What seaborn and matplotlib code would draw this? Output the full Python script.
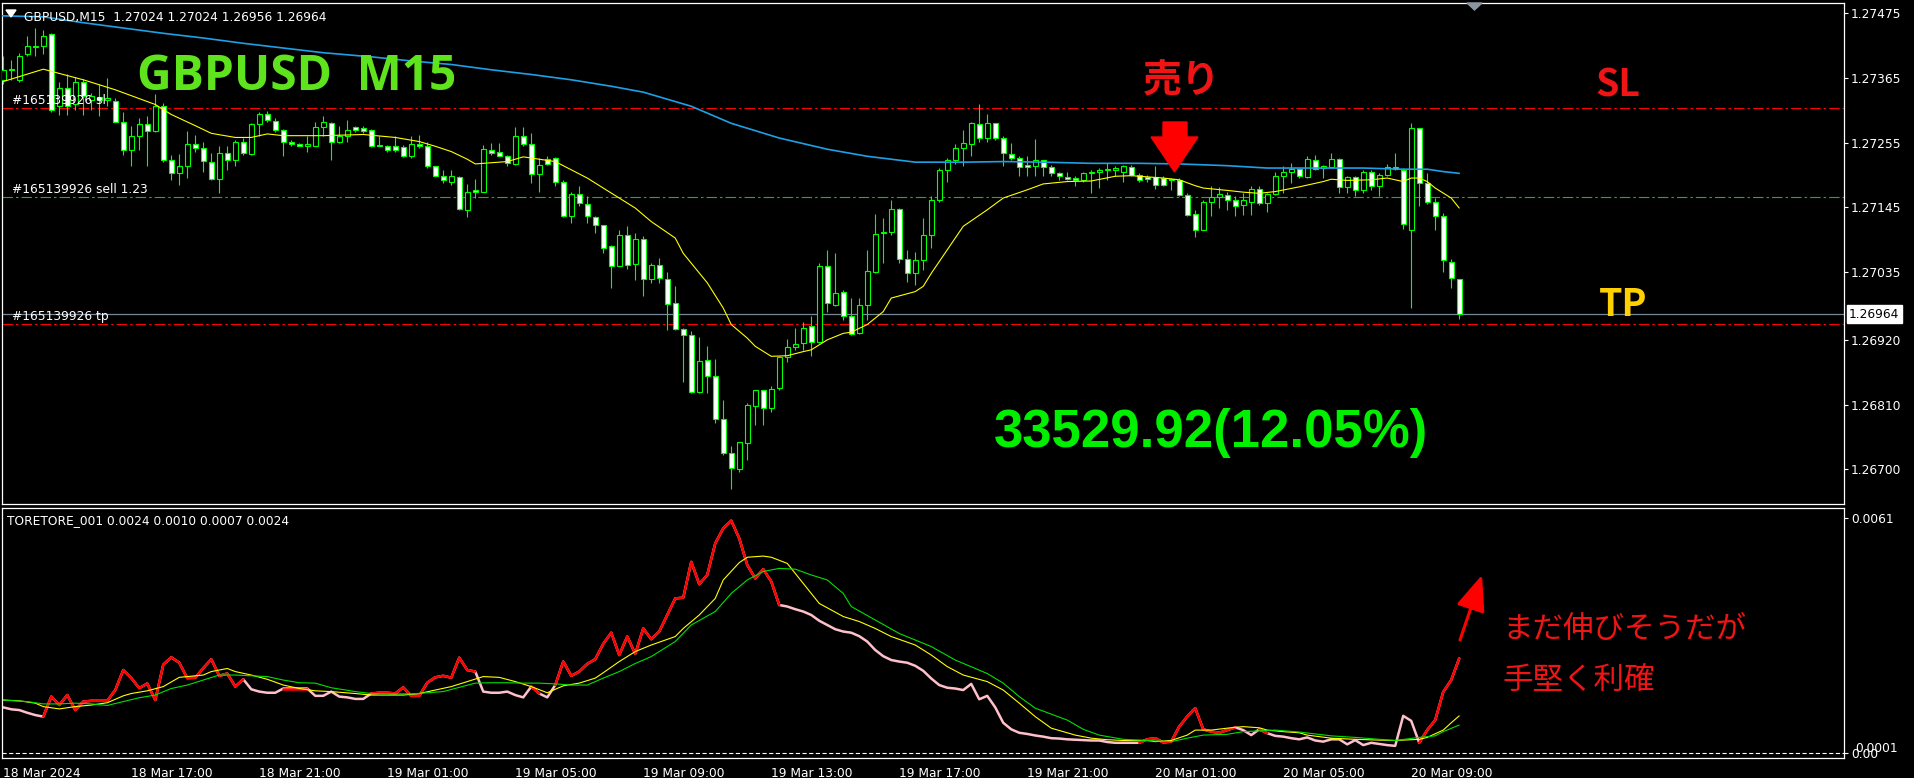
import numpy as np
import pandas as pd
import seaborn as sns
import matplotlib.pyplot as plt
from matplotlib.patches import Polygon

# GBPUSD M15 candles, bar 0 = 18 Mar 13:00
opens = [
    1.27362, 1.27378, 1.27362, 1.27405, 1.27418, 1.27419, 1.27439, 1.27317, 1.27348, 1.27320,
    1.27358, 1.27328, 1.27332, 1.27328, 1.27326, 1.27291, 1.27243, 1.27266, 1.27287, 1.27275,
    1.27317, 1.27226, 1.27203, 1.27215, 1.27253, 1.27246, 1.27222, 1.27193, 1.27237, 1.27226,
    1.27257, 1.27236, 1.27287, 1.27304, 1.27292, 1.27276, 1.27256, 1.27253, 1.27250, 1.27250,
    1.27281, 1.27288, 1.27256, 1.27267, 1.27282, 1.27280, 1.27277, 1.27252, 1.27249, 1.27249,
    1.27247, 1.27232, 1.27253, 1.27250, 1.27215, 1.27199, 1.27189, 1.27197, 1.27141, 1.27175,
    1.27172, 1.27242, 1.27239, 1.27233, 1.27219, 1.27266, 1.27253, 1.27202, 1.27227, 1.27229,
    1.27189, 1.27130, 1.27168, 1.27151, 1.27128, 1.27115, 1.27079, 1.27046, 1.27098, 1.27049,
    1.27091, 1.27023, 1.27048, 1.27023, 1.26982, 1.26938, 1.26928, 1.26831, 1.26886, 1.26858,
    1.26785, 1.26728, 1.26700, 1.26745, 1.26808, 1.26834, 1.26804, 1.26838, 1.26891, 1.26908,
    1.26915, 1.26944, 1.26916, 1.27046, 1.26980, 1.27001, 1.26960, 1.26931, 1.26980, 1.27036,
    1.27101, 1.27103, 1.27142, 1.27057, 1.27033, 1.27055, 1.27098, 1.27158, 1.27209, 1.27225,
    1.27246, 1.27253, 1.27287, 1.27263, 1.27288, 1.27263, 1.27236, 1.27229, 1.27218, 1.27215,
    1.27226, 1.27214, 1.27203, 1.27197, 1.27195, 1.27192, 1.27203, 1.27206, 1.27208, 1.27208,
    1.27205, 1.27214, 1.27201, 1.27197, 1.27197, 1.27195, 1.27193, 1.27192, 1.27167, 1.27134,
    1.27107, 1.27155, 1.27163, 1.27167, 1.27158, 1.27150, 1.27155, 1.27176, 1.27152, 1.27168,
    1.27198, 1.27206, 1.27210, 1.27196, 1.27225, 1.27212, 1.27213, 1.27227, 1.27180, 1.27196,
    1.27174, 1.27205, 1.27181, 1.27201, 1.27214, 1.27209, 1.27107, 1.27280, 1.27186, 1.27155,
    1.27131, 1.27053, 1.27024,
]
highs = [
    1.27402, 1.27396, 1.27407, 1.27436, 1.27450, 1.27447, 1.27441, 1.27359, 1.27371, 1.27367,
    1.27363, 1.27339, 1.27354, 1.27365, 1.27331, 1.27308, 1.27283, 1.27297, 1.27300, 1.27338,
    1.27322, 1.27235, 1.27236, 1.27275, 1.27269, 1.27257, 1.27237, 1.27249, 1.27249, 1.27260,
    1.27263, 1.27288, 1.27307, 1.27309, 1.27297, 1.27278, 1.27260, 1.27254, 1.27267, 1.27290,
    1.27300, 1.27291, 1.27283, 1.27293, 1.27284, 1.27283, 1.27278, 1.27266, 1.27252, 1.27266,
    1.27252, 1.27266, 1.27269, 1.27257, 1.27216, 1.27209, 1.27209, 1.27198, 1.27185, 1.27194,
    1.27252, 1.27254, 1.27254, 1.27235, 1.27282, 1.27282, 1.27271, 1.27229, 1.27232, 1.27231,
    1.27192, 1.27172, 1.27181, 1.27164, 1.27130, 1.27116, 1.27082, 1.27107, 1.27113, 1.27101,
    1.27096, 1.27050, 1.27059, 1.27036, 1.27011, 1.26940, 1.26935, 1.26925, 1.26909, 1.26887,
    1.26818, 1.26739, 1.26747, 1.26813, 1.26835, 1.26835, 1.26841, 1.26892, 1.26921, 1.26940,
    1.26950, 1.26960, 1.27051, 1.27073, 1.27067, 1.27005, 1.26991, 1.26991, 1.27073, 1.27134,
    1.27127, 1.27158, 1.27144, 1.27073, 1.27070, 1.27127, 1.27164, 1.27212, 1.27229, 1.27253,
    1.27277, 1.27290, 1.27321, 1.27304, 1.27289, 1.27266, 1.27254, 1.27232, 1.27232, 1.27261,
    1.27226, 1.27218, 1.27205, 1.27206, 1.27198, 1.27206, 1.27209, 1.27212, 1.27221, 1.27216,
    1.27218, 1.27218, 1.27203, 1.27201, 1.27216, 1.27198, 1.27195, 1.27195, 1.27169, 1.27141,
    1.27158, 1.27181, 1.27180, 1.27172, 1.27164, 1.27169, 1.27182, 1.27181, 1.27169, 1.27206,
    1.27215, 1.27221, 1.27212, 1.27233, 1.27235, 1.27218, 1.27237, 1.27229, 1.27198, 1.27198,
    1.27209, 1.27209, 1.27203, 1.27219, 1.27237, 1.27212, 1.27288, 1.27280, 1.27203, 1.27161,
    1.27135, 1.27057, 1.27024,
]
lows = [
    1.27354, 1.27362, 1.27359, 1.27402, 1.27402, 1.27405, 1.27308, 1.27302, 1.27302, 1.27311,
    1.27302, 1.27311, 1.27300, 1.27317, 1.27291, 1.27235, 1.27215, 1.27243, 1.27215, 1.27274,
    1.27223, 1.27192, 1.27184, 1.27195, 1.27240, 1.27206, 1.27192, 1.27169, 1.27209, 1.27215,
    1.27235, 1.27235, 1.27266, 1.27291, 1.27274, 1.27232, 1.27249, 1.27249, 1.27240, 1.27249,
    1.27266, 1.27226, 1.27254, 1.27257, 1.27274, 1.27271, 1.27248, 1.27249, 1.27240, 1.27240,
    1.27231, 1.27229, 1.27246, 1.27212, 1.27198, 1.27186, 1.27184, 1.27141, 1.27129, 1.27161,
    1.27171, 1.27235, 1.27232, 1.27215, 1.27218, 1.27249, 1.27186, 1.27171, 1.27218, 1.27181,
    1.27129, 1.27118, 1.27147, 1.27118, 1.27101, 1.27067, 1.27008, 1.27045, 1.27040, 1.27022,
    1.26994, 1.27016, 1.27016, 1.26937, 1.26937, 1.26849, 1.26830, 1.26829, 1.26830, 1.26779,
    1.26725, 1.26667, 1.26695, 1.26716, 1.26776, 1.26776, 1.26798, 1.26834, 1.26883, 1.26903,
    1.26903, 1.26893, 1.26915, 1.26968, 1.26977, 1.26954, 1.26929, 1.26930, 1.26954, 1.27033,
    1.27051, 1.27099, 1.27051, 1.27019, 1.27013, 1.27039, 1.27076, 1.27154, 1.27188, 1.27219,
    1.27215, 1.27232, 1.27257, 1.27257, 1.27259, 1.27215, 1.27226, 1.27198, 1.27198, 1.27198,
    1.27198, 1.27198, 1.27192, 1.27192, 1.27181, 1.27189, 1.27169, 1.27178, 1.27192, 1.27198,
    1.27189, 1.27198, 1.27189, 1.27189, 1.27176, 1.27181, 1.27174, 1.27164, 1.27131, 1.27095,
    1.27106, 1.27130, 1.27144, 1.27141, 1.27130, 1.27133, 1.27133, 1.27150, 1.27137, 1.27167,
    1.27169, 1.27186, 1.27195, 1.27195, 1.27209, 1.27195, 1.27212, 1.27169, 1.27169, 1.27164,
    1.27169, 1.27175, 1.27164, 1.27198, 1.27209, 1.27108, 1.26974, 1.27147, 1.27151, 1.27107,
    1.27036, 1.27008, 1.26956,
]
closes = [
    1.27379, 1.27380, 1.27402, 1.27419, 1.27420, 1.27437, 1.27311, 1.27348, 1.27317, 1.27359,
    1.27334, 1.27335, 1.27328, 1.27331, 1.27291, 1.27243, 1.27266, 1.27287, 1.27275, 1.27317,
    1.27226, 1.27203, 1.27215, 1.27253, 1.27246, 1.27224, 1.27193, 1.27237, 1.27226, 1.27257,
    1.27237, 1.27287, 1.27304, 1.27293, 1.27277, 1.27256, 1.27253, 1.27250, 1.27253, 1.27281,
    1.27290, 1.27256, 1.27267, 1.27277, 1.27277, 1.27275, 1.27250, 1.27249, 1.27243, 1.27243,
    1.27232, 1.27253, 1.27250, 1.27215, 1.27199, 1.27192, 1.27199, 1.27142, 1.27171, 1.27171,
    1.27244, 1.27237, 1.27233, 1.27220, 1.27266, 1.27253, 1.27202, 1.27217, 1.27219, 1.27188,
    1.27130, 1.27168, 1.27152, 1.27130, 1.27115, 1.27076, 1.27046, 1.27098, 1.27048, 1.27092,
    1.27023, 1.27048, 1.27025, 1.26981, 1.26938, 1.26929, 1.26831, 1.26884, 1.26858, 1.26785,
    1.26728, 1.26702, 1.26746, 1.26810, 1.26835, 1.26804, 1.26837, 1.26890, 1.26908, 1.26913,
    1.26940, 1.26916, 1.27046, 1.26982, 1.26999, 1.26960, 1.26930, 1.26980, 1.27037, 1.27100,
    1.27104, 1.27142, 1.27057, 1.27033, 1.27056, 1.27099, 1.27158, 1.27209, 1.27226, 1.27246,
    1.27254, 1.27288, 1.27263, 1.27288, 1.27263, 1.27237, 1.27229, 1.27214, 1.27214, 1.27226,
    1.27214, 1.27203, 1.27199, 1.27193, 1.27191, 1.27203, 1.27206, 1.27209, 1.27210, 1.27212,
    1.27216, 1.27201, 1.27192, 1.27193, 1.27183, 1.27183, 1.27191, 1.27167, 1.27133, 1.27107,
    1.27155, 1.27163, 1.27168, 1.27158, 1.27148, 1.27158, 1.27176, 1.27152, 1.27168, 1.27198,
    1.27206, 1.27210, 1.27198, 1.27227, 1.27210, 1.27216, 1.27227, 1.27180, 1.27196, 1.27174,
    1.27205, 1.27181, 1.27201, 1.27214, 1.27210, 1.27117, 1.27280, 1.27186, 1.27154, 1.27130,
    1.27056, 1.27025, 1.26964,
]

# moving averages on the price panel (read at selected bars)
ma_fast_bar = [0, 5, 10, 14, 19, 21, 24, 26, 29, 31, 33, 35, 40, 45, 49, 52, 54, 56, 58, 59,
               63, 65, 69, 71, 73, 75, 77, 79, 81, 84, 85, 88, 90, 91, 93, 94, 96, 98, 100, 101,
               103, 105, 106, 108, 110, 111, 114, 115, 116, 118, 120, 123, 125, 128, 130, 133, 136, 139, 141, 143,
               145, 147, 149, 150, 153, 155, 157, 159, 162, 165, 166, 168, 171, 173, 175, 176, 177, 178, 179, 181, 182]
ma_fast = [1.27359, 1.27380, 1.27362, 1.27345, 1.27320, 1.27303, 1.27284, 1.27271, 1.27264, 1.27264,
           1.27270, 1.27267, 1.27267, 1.27269, 1.27264, 1.27257, 1.27249, 1.27240, 1.27227, 1.27219,
           1.27223, 1.27231, 1.27223, 1.27209, 1.27195, 1.27178, 1.27161, 1.27144, 1.27121, 1.27093,
           1.27067, 1.27017, 1.26974, 1.26946, 1.26923, 1.26909, 1.26892, 1.26893, 1.26900, 1.26903,
           1.26920, 1.26931, 1.26933, 1.26946, 1.26968, 1.26991, 1.27002, 1.27011, 1.27033, 1.27073,
           1.27113, 1.27141, 1.27161, 1.27175, 1.27185, 1.27189, 1.27190, 1.27198, 1.27199, 1.27197,
           1.27195, 1.27192, 1.27182, 1.27178, 1.27174, 1.27171, 1.27169, 1.27172, 1.27180, 1.27189,
           1.27193, 1.27191, 1.27192, 1.27195, 1.27189, 1.27195, 1.27195, 1.27189, 1.27178, 1.27161, 1.27144]
ma_slow_bar = [-1, 5, 10, 15, 20, 25, 30, 35, 40, 46, 51, 56, 61, 66, 71, 76, 80, 86, 91, 97,
               103, 108, 114, 120, 125, 130, 136, 142, 147, 153, 158, 162, 165, 170, 175, 178, 180, 182]
ma_slow = [1.27471, 1.27469, 1.27459, 1.27450, 1.27441, 1.27433, 1.27424, 1.27416, 1.27408, 1.27401,
           1.27394, 1.27388, 1.27379, 1.27371, 1.27362, 1.27351, 1.27341, 1.27317, 1.27288, 1.27263,
           1.27244, 1.27232, 1.27222, 1.27222, 1.27223, 1.27222, 1.27220, 1.27220, 1.27219, 1.27216,
           1.27212, 1.27212, 1.27212, 1.27212, 1.27210, 1.27210, 1.27206, 1.27203]

# TORETORE_001 oscillator
osc_main = [
    .00119, .00114, .00112, .00105, .00099, .00095, .00147, .00125, .00151, .00112,
    .00134, .00136, .00136, .00136, .00164, .00216, .00195, .00169, .00181, .00138,
    .00230, .00249, .00235, .00195, .00196, .00221, .00244, .00201, .00207, .00173,
    .00192, .00166, .00160, .00157, .00157, .00168, .00168, .00168, .00168, .00149,
    .00149, .00160, .00147, .00145, .00141, .00141, .00155, .00157, .00157, .00155,
    .00171, .00149, .00149, .00183, .00197, .00201, .00196, .00248, .00216, .00212,
    .00160, .00157, .00157, .00160, .00151, .00145, .00173, .00155, .00145, .00177,
    .00238, .00201, .00212, .00232, .00244, .00284, .00313, .00255, .00303, .00258,
    .00324, .00296, .00316, .00359, .00402, .00404, .00497, .00439, .00463, .00545,
    .00584, .00604, .00558, .00489, .00454, .00478, .00446, .00385, .00381, .00374,
    .00368, .00359, .00344, .00333, .00322, .00316, .00313, .00304, .00290, .00268,
    .00252, .00242, .00238, .00235, .00227, .00214, .00194, .00177, .00170, .00168,
    .00164, .00180, .00140, .00149, .00119, .00079, .00062, .00053, .00050, .00046,
    .00043, .00039, .00038, .00036, .00035, .00034, .00033, .00033, .00029, .00027,
    .00027, .00027, .00027, .00036, .00039, .00028, .00030, .00069, .00095, .00117,
    .00062, .00056, .00053, .00060, .00067, .00060, .00047, .00062, .00052, .00045,
    .00043, .00039, .00036, .00041, .00033, .00030, .00036, .00036, .00023, .00034,
    .00021, .00027, .00024, .00021, .00019, .00097, .00084, .00027, .00060, .00086,
    .00159, .00190, .00246,
]
osc_red_spans = [(5, 30), (35, 38), (46, 59), (66, 67), (69, 97), (142, 154), (157, 158), (177, 182)]
osc_sig_bar = [0, 2, 4, 5, 7, 9, 11, 13, 15, 16, 18, 20, 22, 23, 25, 26, 28, 29, 31, 33,
               35, 37, 39, 41, 44, 46, 48, 50, 52, 54, 56, 58, 60, 62, 64, 66, 68, 70, 72, 74,
               75, 77, 79, 81, 84, 85, 87, 89, 90, 92, 93, 95, 96, 98, 99, 100, 101, 102, 105, 107,
               109, 111, 114, 116, 118, 120, 123, 125, 127, 129, 131, 134, 136, 138, 140, 143, 144, 146, 148, 149,
               151, 153, 155, 157, 158, 160, 162, 163, 166, 169, 172, 174, 177, 178, 180, 181, 182]
osc_sig = [.00138, .00136, .00130, .00121, .00115, .00121, .00125, .00131, .00149, .00155,
           .00162, .00173, .00197, .00199, .00203, .00212, .00220, .00212, .00203, .00192,
           .00177, .00168, .00162, .00160, .00155, .00151, .00151, .00151, .00155, .00164,
           .00173, .00186, .00199, .00197, .00186, .00173, .00157, .00175, .00182, .00195,
           .00209, .00238, .00264, .00281, .00303, .00324, .00359, .00402, .00450, .00495,
           .00509, .00512, .00509, .00493, .00467, .00441, .00415, .00389, .00355, .00342,
           .00324, .00303, .00281, .00255, .00225, .00203, .00186, .00164, .00130, .00095,
           .00065, .00047, .00039, .00035, .00033, .00033, .00030, .00033, .00047, .00060,
           .00060, .00065, .00069, .00066, .00060, .00056, .00053, .00047, .00039, .00036,
           .00034, .00033, .00036, .00041, .00060, .00079, .00097]
osc_slow_bar = [0, 3, 5, 7, 9, 11, 13, 15, 17, 19, 21, 23, 25, 27, 29, 31, 33, 35, 37, 39,
                41, 44, 46, 48, 51, 53, 55, 57, 59, 61, 63, 65, 67, 69, 71, 73, 75, 77, 79, 81,
                84, 86, 89, 91, 93, 95, 97, 99, 101, 103, 105, 106, 109, 112, 116, 119, 123, 125, 127, 129,
                133, 135, 137, 140, 143, 146, 148, 150, 153, 155, 157, 159, 162, 166, 169, 172, 174, 177, 179, 180, 182]
osc_slow = [.00138, .00134, .00128, .00128, .00130, .00128, .00124, .00134, .00144, .00151,
            .00168, .00177, .00190, .00203, .00203, .00201, .00199, .00190, .00183, .00182,
            .00170, .00160, .00155, .00154, .00154, .00157, .00160, .00171, .00182, .00183,
            .00183, .00182, .00182, .00180, .00177, .00177, .00195, .00212, .00233, .00251,
            .00290, .00333, .00368, .00415, .00450, .00472, .00480, .00478, .00463, .00450,
            .00415, .00381, .00346, .00311, .00277, .00242, .00207, .00182, .00147, .00117,
            .00086, .00062, .00047, .00036, .00033, .00030, .00039, .00047, .00049, .00056,
            .00058, .00060, .00055, .00045, .00041, .00036, .00033, .00041, .00045, .00056, .00073]

price_ticks = [1.27475, 1.27365, 1.27255, 1.27145, 1.27035, 1.26920, 1.26810, 1.26700]
time_ticks = [0, 16, 32, 48, 64, 80, 96, 112, 128, 144, 160, 176]
time_labels = ["18 Mar 2024", "18 Mar 17:00", "18 Mar 21:00", "19 Mar 01:00", "19 Mar 05:00",
               "19 Mar 09:00", "19 Mar 13:00", "19 Mar 17:00", "19 Mar 21:00", "20 Mar 01:00",
               "20 Mar 05:00", "20 Mar 09:00"]

sl_price = 1.27314
entry_price = 1.27163
tp_price = 1.26947
last_price = 1.26964

W, H = 1915, 778
GREEN = "#00FF00"


def fx(x):
    return x / W


def fy(y):
    return 1 - y / H


sns.set_theme(style="dark", rc={
    "figure.facecolor": "black", "axes.facecolor": "black", "axes.edgecolor": "white",
    "axes.grid": False, "text.color": "white", "xtick.color": "white", "ytick.color": "white",
    "lines.scale_dashes": False,
})
plt.rcParams["font.family"] = ["DejaVu Sans", "Noto Sans CJK JP"]

fig = plt.figure(figsize=(W / 100, H / 100), dpi=100)
ax = fig.add_axes([fx(2), fy(504), fx(1844 - 2), (504 - 3) / H])
ax2 = fig.add_axes([fx(2), fy(758), fx(1844 - 2), (758 - 507.5) / H])

idx = np.arange(len(opens))
o = np.array(opens)
c = np.array(closes)
fill = np.where(c < o, "white", "black")

# candles
ax.vlines(idx, lows, highs, color=GREEN, lw=0.8, zorder=3)
ax.bar(idx, c - o, bottom=o, width=0.58, color=fill, edgecolor=GREEN, linewidth=0.8, zorder=4)

sns.lineplot(x=ma_slow_bar, y=ma_slow, ax=ax, color="#1EA0E6", lw=1.2, estimator=None, sort=False, zorder=5)
sns.lineplot(x=ma_fast_bar, y=ma_fast, ax=ax, color="#FFFF00", lw=0.8, estimator=None, sort=False, zorder=5)

dashdot = (0, (7.5, 2.2, 1.8, 2.2))
ax.axhline(sl_price, color="#FF0000", lw=0.8, ls=dashdot, zorder=2)
ax.axhline(entry_price, color="#00C800", lw=0.8, ls=dashdot, zorder=2)
ax.axhline(tp_price, color="#FF0000", lw=0.8, ls=dashdot, zorder=2)
ax.axhline(last_price, color="#778899", lw=0.9, zorder=2)

for price, lab in [(sl_price, "#165139926 sl"), (entry_price, "#165139926 sell 1.23"),
                   (tp_price, "#165139926 tp")]:
    ax.annotate(lab, xy=(1.1, price), xytext=(0, 0.5), textcoords="offset points",
                color="white", fontsize=8.8, va="bottom", ha="left", zorder=6)

ax.set_xlim(-0.16, 230.1)
ax.set_ylim(1.266410, 1.274925)
ax.yaxis.tick_right()
ax.set_yticks(price_ticks)
ax.set_yticklabels([f"{p:.5f}" for p in price_ticks])
ax.tick_params(axis="y", length=3, width=0.8, pad=2, labelsize=8.8, colors="white")
ax.set_xticks([])
ax.set_xlabel("")
ax.set_ylabel("")

# oscillator
sns.lineplot(x=idx, y=osc_main, ax=ax2, color="#FFC0CB", lw=1.8, estimator=None, sort=False)
for s, e in osc_red_spans:
    sns.lineplot(x=idx[s:e + 1], y=osc_main[s:e + 1], ax=ax2, color="#FF0000", lw=1.8,
                 estimator=None, sort=False)
sns.lineplot(x=osc_sig_bar, y=osc_sig, ax=ax2, color="#FFFF00", lw=0.8, estimator=None, sort=False)
sns.lineplot(x=osc_slow_bar, y=osc_slow, ax=ax2, color="#00E000", lw=0.8, estimator=None, sort=False)
ax2.axhline(0, color="white", lw=0.8, ls=(0, (3, 1.8)))

ax2.set_xlim(-0.16, 230.1)
ax2.set_ylim(-0.000125, 0.006382)
ax2.yaxis.tick_right()
ax2.set_yticks([0.0061, 0.0])
ax2.set_yticklabels(["0.0061", "0.00"])
ax2.tick_params(axis="y", length=3, width=0.8, pad=2, labelsize=8.8, colors="white")
ax2.set_xticks(time_ticks)
ax2.set_xticklabels(time_labels)
ax2.tick_params(axis="x", length=5, width=0.8, pad=1.5, labelsize=8.8, colors="white")
for t in ax2.get_xticklabels():
    t.set_ha("left")
ax2.set_xlabel("")
ax2.set_ylabel("")

for a in (ax, ax2):
    a.grid(False)
    for sp in a.spines.values():
        sp.set_color("white")
        sp.set_linewidth(0.9)

# labels / annotations
fig.text(fx(1855), fy(748.5), "0.0001", color="white", fontsize=8.8, va="center", ha="left")
fig.text(fx(1849), fy(314.3), f"{last_price:.5f}", color="black", fontsize=8.8, va="center", ha="left",
         bbox=dict(boxstyle="square,pad=0.2", fc="white", ec="white"))
fig.text(fx(24.5), fy(17), "GBPUSD,M15  1.27024 1.27024 1.26956 1.26964", color="white",
         fontsize=8.8, va="center", ha="left")
fig.add_artist(Polygon([(fx(6), fy(10)), (fx(16), fy(10)), (fx(11), fy(17))], closed=True,
                       transform=fig.transFigure, color="white"))
fig.add_artist(Polygon([(fx(1467), fy(3)), (fx(1482), fy(3)), (fx(1474.5), fy(10))], closed=True,
                       transform=fig.transFigure, color="#8C96A0"))
fig.text(fx(7.3), fy(520.7), "TORETORE_001 0.0024 0.0010 0.0007 0.0024", color="white",
         fontsize=8.8, va="center", ha="left")

fig.text(fx(137), fy(90), "GBPUSD  M15", color="#5EE31D", fontsize=34.5, fontweight="bold",
         family="Open Sans", va="baseline", ha="left")
fig.text(fx(1211), fy(447), "33529.92(12.05%)", color="#00F000", fontsize=38, fontweight="bold",
         family="Liberation Sans", va="baseline", ha="center")
fig.text(fx(1182), fy(81), "売り", color="#F01414", fontsize=28, fontweight="bold",
         family="Noto Sans CJK JP", va="center", ha="center")
fig.add_artist(Polygon([(fx(1163), fy(122)), (fx(1187), fy(122)), (fx(1187), fy(137)), (fx(1198), fy(137)),
                        (fx(1174.5), fy(172)), (fx(1151), fy(137)), (fx(1163), fy(137))], closed=True,
                       transform=fig.transFigure, color="#FF0000"))
fig.text(fx(1618), fy(85), "SL", color="#F01414", fontsize=27, fontweight="bold",
         family="Noto Sans CJK JP", va="center", ha="center")
fig.text(fx(1623), fy(304), "TP", color="#FFD000", fontsize=27, fontweight="bold",
         family="Noto Sans CJK JP", va="center", ha="center")
fig.text(fx(1502), fy(630), "まだ伸びそうだが", color="#F01414", fontsize=22,
         family="Noto Sans CJK JP", va="center", ha="left")
fig.text(fx(1502), fy(680), "手堅く利確", color="#F01414", fontsize=22,
         family="Noto Sans CJK JP", va="center", ha="left")
ax2.annotate("", xy=(1482, H - 575), xytext=(1460, H - 640), xycoords="figure pixels",
             textcoords="figure pixels",
             arrowprops=dict(arrowstyle="-|>,head_length=1.1,head_width=0.45", color="#FF0000",
                             lw=2.2, mutation_scale=20, shrinkA=0, shrinkB=0))

fig.savefig("out.png", dpi=100, facecolor="black")
